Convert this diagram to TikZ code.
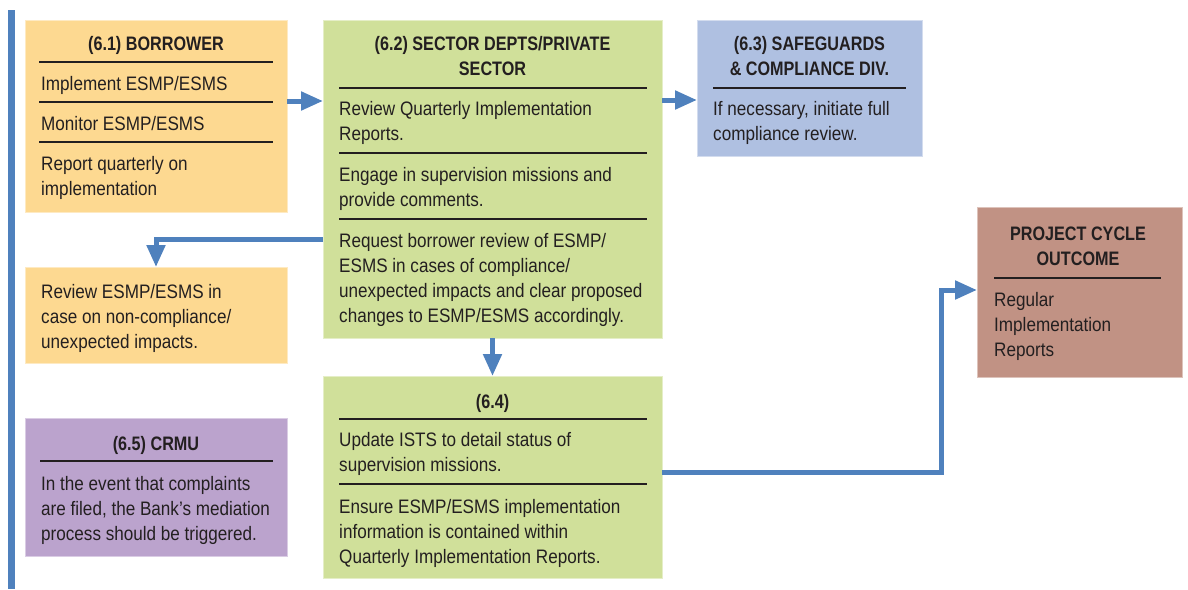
\documentclass[tikz,border=0pt]{standalone}
\usepackage{fontspec}
\setmainfont{Liberation Sans}[FakeStretch=0.877, BoldFeatures={FakeStretch=0.83}]
\usetikzlibrary{arrows.meta,calc}

\definecolor{flowblue}{HTML}{4F81BD}
\definecolor{ink}{HTML}{231F20}
\definecolor{orangefill}{HTML}{FDD991}
\definecolor{greenfill}{HTML}{D0E09A}
\definecolor{bluefill}{HTML}{AFC0E1}
\definecolor{purplefill}{HTML}{BBA3CD}
\definecolor{brownfill}{HTML}{C19284}

% multi-line nodes are placed by the baseline of their last line
\tikzset{
  panel/.style={rectangle, anchor=north west, inner sep=0pt, outer sep=0pt, line width=0.8pt},
  title/.style={anchor=base, align=center, inner sep=0pt, text=ink,
                font=\bfseries\fontsize{19.5}{25}\selectfont},
  body/.style={anchor=base west, align=left, inner sep=0pt, text=ink,
               font=\fontsize{19.5}{25}\selectfont},
  rule/.style={draw=ink, line width=1.3pt},
  flow/.style={draw=flowblue, line width=5pt, -{Triangle[length=22pt,width=18pt]}},
}

\begin{document}
\begin{tikzpicture}[x=1pt, y=-1pt]
  \useasboundingbox (0,0) rectangle (1188,589);
  \fill[white] (0,0) rectangle (1188,589);

  % vertical bar on the left margin
  \fill[flowblue] (8,10) rectangle (15,589);

  % panels
  \node[panel, fill=orangefill, draw=orangefill!55!white, minimum width=262pt, minimum height=192pt] (bor) at (25,20) {};
  \node[panel, fill=greenfill, draw=greenfill!55!white, minimum width=339pt, minimum height=318pt] (sec) at (323,20) {};
  \node[panel, fill=bluefill, draw=bluefill!55!white, minimum width=225pt, minimum height=136pt] (saf) at (697,20) {};
  \node[panel, fill=brownfill, draw=brownfill!55!white, minimum width=205pt, minimum height=170pt] (out) at (977,207) {};
  \node[panel, fill=orangefill, draw=orangefill!55!white, minimum width=262pt, minimum height=96pt] (rev) at (25,267) {};
  \node[panel, fill=purplefill, draw=purplefill!55!white, minimum width=262pt, minimum height=138pt] (crmu) at (25,418) {};
  \node[panel, fill=greenfill, draw=greenfill!55!white, minimum width=339pt, minimum height=202pt] (s4) at (323,376) {};

  % (6.1) borrower
  \node[title] (borT) at (156,50) {(6.1) BORROWER};
  \draw[rule] (39,62) -- (273,62);
  \node[body] (borA) at (41,90) {Implement ESMP/ESMS};
  \draw[rule] (39,102) -- (273,102);
  \node[body] (borB) at (41,130) {Monitor ESMP/ESMS};
  \draw[rule] (39,142) -- (273,142);
  \node[body] (borC) at (41,195) {Report quarterly on\\implementation};

  % (6.2) sector departments
  \node[title] (secT) at (492.5,75) {(6.2) SECTOR DEPTS/PRIVATE\\SECTOR};
  \draw[rule] (339,88) -- (647,88);
  \node[body] (secA) at (339,140) {Review Quarterly Implementation\\Reports.};
  \draw[rule] (339,153) -- (647,153);
  \node[body] (secB) at (339,206) {Engage in supervision missions and\\provide comments.};
  \draw[rule] (339,219) -- (647,219);
  \node[body] (secC) at (339,322) {Request borrower review of ESMP/\\ESMS in cases of compliance/\\unexpected impacts and clear proposed\\changes to ESMP/ESMS accordingly.};

  % (6.3) safeguards
  \node[title] (safT) at (809.5,75) {(6.3) SAFEGUARDS\\\& COMPLIANCE DIV.};
  \draw[rule] (713,88) -- (906,88);
  \node[body] (safA) at (713,140) {If necessary, initiate full\\compliance review.};

  % project cycle outcome
  \node[title] (outT) at (1078,265) {PROJECT CYCLE\\OUTCOME};
  \draw[rule] (994,278) -- (1161,278);
  \node[body] (outA) at (994,356) {Regular\\Implementation\\Reports};

  % borrower review
  \node[body] (revA) at (41,348) {Review ESMP/ESMS in\\case on non-compliance/\\unexpected impacts.};

  % (6.5) CRMU
  \node[title] (crmuT) at (156,450) {(6.5) CRMU};
  \draw[rule] (40,461) -- (273,461);
  \node[body] (crmuA) at (41,540) {In the event that complaints\\are filed, the Bank’s mediation\\process should be triggered.};

  % (6.4)
  \node[title] (s4T) at (492.5,408) {(6.4)};
  \draw[rule] (339,419) -- (647,419);
  \node[body] (s4A) at (339,471) {Update ISTS to detail status of\\supervision missions.};
  \draw[rule] (339,484) -- (647,484);
  \node[body] (s4B) at (339,563) {Ensure ESMP/ESMS implementation\\information is contained within\\Quarterly Implementation Reports.};

  % connectors
  \draw[flow] ([yshift=-81pt]bor.north east) coordinate (p1) -- (p1 -| sec.west);
  \draw[flow] ([yshift=-80pt]sec.north east) coordinate (p2) -- (p2 -| saf.west);
  \draw[flow] ([yshift=-219pt]sec.north west) -| (rev.north);
  \draw[flow] (sec.south) -- (s4.north);
  \coordinate (inOut) at ([yshift=-83pt]out.north west);
  \draw[flow] ([yshift=-96pt]s4.north east) -| ([xshift=-36pt]inOut) -- (inOut);
\end{tikzpicture}
\end{document}
